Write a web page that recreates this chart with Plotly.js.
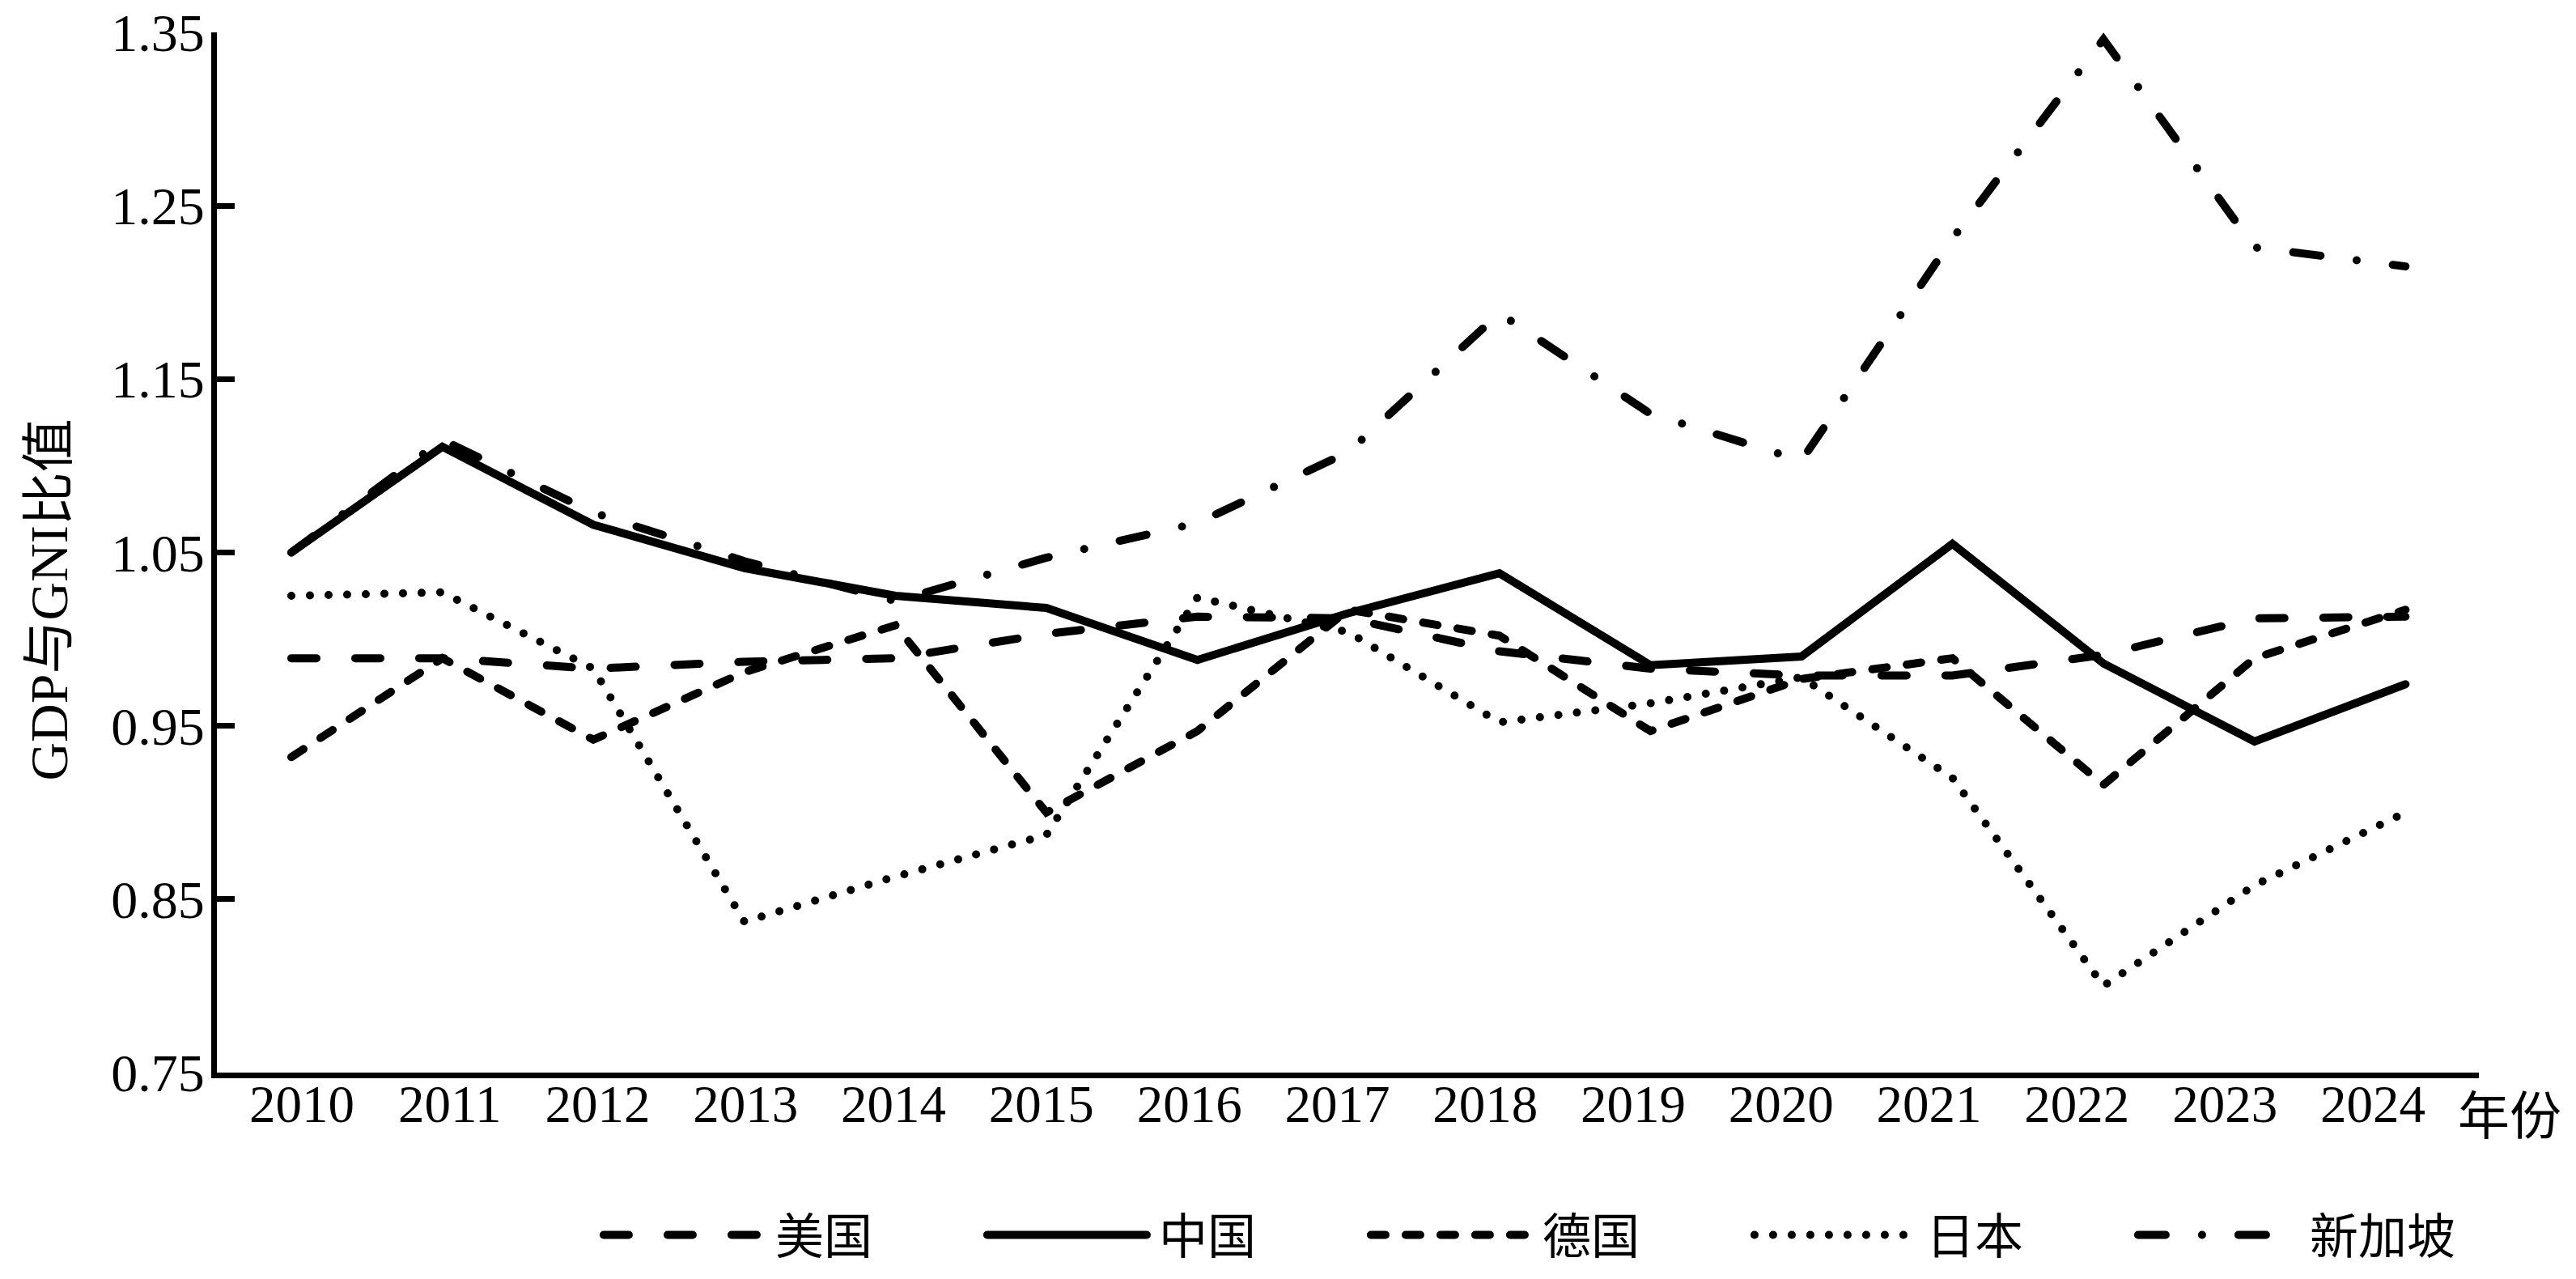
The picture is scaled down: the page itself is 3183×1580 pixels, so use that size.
<!DOCTYPE html>
<html>
<head>
<meta charset="utf-8">
<script src="https://cdn.plot.ly/plotly-3.0.1.min.js"></script>
<style>
  html, body { margin: 0; padding: 0; background: #fff; }
  #chart { width: 3183px; height: 1580px; }
  .scatterlayer path.js-line, .legendlines path { stroke-linecap: round !important; }
</style>
</head>
<body>
<div id="chart"></div>
<script>
const years = ['2010','2011','2012','2013','2014','2015','2016','2017','2018','2019','2020','2021','2022','2023','2024'];
const seriesNames = ['美国','中国','德国','日本','新加坡'];
const usa       = [0.989, 0.989, 0.983, 0.987, 0.989, 1.003, 1.013, 1.012, 0.993, 0.983, 0.979, 0.979, 0.991, 1.012, 1.013];
const china     = [1.050, 1.111, 1.066, 1.041, 1.025, 1.018, 0.988, 1.015, 1.038, 0.985, 0.990, 1.055, 0.986, 0.941, 0.974];
const germany   = [0.932, 0.989, 0.942, 0.981, 1.008, 0.900, 0.947, 1.017, 1.002, 0.947, 0.977, 0.989, 0.916, 0.989, 1.017];
const japan     = [1.025, 1.027, 0.983, 0.837, 0.863, 0.887, 1.024, 1.004, 0.952, 0.963, 0.978, 0.920, 0.800, 0.858, 0.900];
const singapore = [1.050, 1.115, 1.073, 1.045, 1.022, 1.047, 1.067, 1.108, 1.188, 1.130, 1.103, 1.231, 1.346, 1.226, 1.215];
const yTicks = [0.75, 0.85, 0.95, 1.05, 1.15, 1.25, 1.35];
const yTickText = ['0.75','0.85','0.95','1.05','1.15','1.25','1.35'];

const serif = '"Liberation Serif", "Times New Roman", "Noto Sans CJK SC", serif';
const cjk = '"Liberation Serif", "Noto Sans CJK SC", sans-serif';
const LW = 10;
const dashes = ['31px,48px', 'solid', '18px,25px', '0px,23px', '34px,45px,0px,45px'];
const allSeries = [usa, china, germany, japan, singapore];

const traces = allSeries.map((vals, i) => ({
  type: 'scatter', mode: 'lines',
  x: years, y: vals, name: seriesNames[i],
  xaxis: 'x', yaxis: 'y',
  line: { color: '#000', width: LW, dash: dashes[i] },
  hoverinfo: 'skip'
}));
// empty helper trace so the year-label axis is drawn (no marks)
traces.push({
  type: 'scatter', mode: 'lines', x: years, y: years.map(() => null),
  xaxis: 'x2', yaxis: 'y', showlegend: false, hoverinfo: 'skip',
  line: { color: 'rgba(0,0,0,0)', width: 0 }
});

const layout = {
  width: 3183, height: 1580,
  margin: { l: 268, r: 120, t: 40, b: 255, autoexpand: false },
  paper_bgcolor: '#fff', plot_bgcolor: '#fff',
  font: { family: serif, color: '#000', size: 65 },
  showlegend: true,
  legend: {
    orientation: 'h', x: 0.1692, xanchor: 'left', y: -0.156, yanchor: 'middle',
    font: { family: cjk, size: 60, color: '#000' },
    itemwidth: 207, entrywidth: 252, entrywidthmode: 'pixels',
    traceorder: 'normal', bgcolor: 'rgba(0,0,0,0)'
  },
  // axis carrying the data (points are spaced slightly wider than the labels in the original)
  xaxis: {
    type: 'category', range: [-0.493, 14.486],
    showline: true, linecolor: '#000', linewidth: 7,
    ticks: '', showgrid: false, zeroline: false, showticklabels: false
  },
  // axis carrying the year labels
  xaxis2: {
    overlaying: 'x', anchor: 'y', side: 'bottom',
    type: 'category', range: [-0.574, 14.717],
    showline: false, ticks: '', showgrid: false, zeroline: false,
    tickfont: { family: serif, size: 65, color: '#000' },
    ticklabelstandoff: -5
  },
  yaxis: {
    range: [0.75, 1.35], tickvals: yTicks, ticktext: yTickText,
    showline: true, linecolor: '#000', linewidth: 7,
    ticks: 'inside', ticklen: 22, tickwidth: 7, tickcolor: '#000',
    showgrid: false, zeroline: false,
    tickfont: { family: serif, size: 66, color: '#000' },
    ticklabelstandoff: -5
  },
  annotations: [
    { text: 'GDP与GNI比值', xref: 'paper', yref: 'paper', x: -0.0742, y: 0.4545,
      xanchor: 'center', yanchor: 'middle', textangle: -90, showarrow: false,
      font: { family: cjk, size: 66, color: '#000' } },
    { text: '年份', xref: 'paper', yref: 'paper', x: 1.0, xshift: 3035 - 3063, y: 0, yshift: -54,
      xanchor: 'left', yanchor: 'middle', showarrow: false,
      font: { family: cjk, size: 64, color: '#000' } }
  ]
};

Plotly.newPlot('chart', traces, layout, { staticPlot: true }).then(() => {
  document.querySelectorAll('.legendlines path').forEach(p => {
    p.setAttribute('d', 'M5,0h' + (207 - 10));
  });
});
</script>
</body>
</html>
